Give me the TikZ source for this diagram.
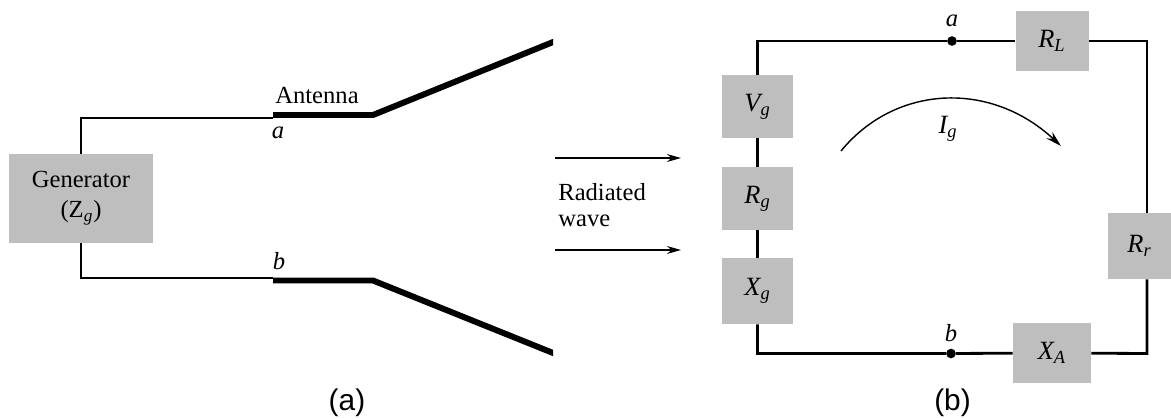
\documentclass[tikz,border=0pt]{standalone}
\usepackage{amsmath}
\usepackage{fontspec}
\setmainfont{Liberation Serif}
\setsansfont{Liberation Sans}
\usetikzlibrary{arrows, arrows.meta}
\usetikzlibrary{calc}
\definecolor{boxgray}{HTML}{BEBEBE}
\tikzset{
  txt/.style={inner sep=0pt, font=\fontsize{14}{14.7}\selectfont},
  caption/.style={inner sep=0pt, font=\sffamily\fontsize{17}{20}\selectfont},
  box/.style={fill=boxgray, inner sep=0pt, font=\fontsize{15}{18}\selectfont},
  feed/.style={line width=0.6pt},
  antenna/.style={line width=3.4pt, line join=miter},
  wire/.style={line width=1.6pt, line join=miter},
  wave/.style={line width=0.6pt, -{Stealth[length=8pt, width=4.5pt]}},
  junction/.style={circle, fill, inner sep=0pt, minimum size=5.5pt},
}
\begin{document}
\begin{tikzpicture}[x=0.02cm, y=-0.02cm]
      \useasboundingbox (0,0) rectangle (1171,419);

      % (a)
      \node[box, minimum width=2.88cm, minimum height=1.78cm, align=center, font=\fontsize{14}{17}\selectfont] (gen) at (81,198.5) {Generator\\($\textup{Z}_{\textit{g}}$)};
      \coordinate (gentop) at (81,118);
      \coordinate (genbot) at (81,278);
      \coordinate (feeda) at (273,118);
      \coordinate (feedb) at (273,278);
      \coordinate (starta) at (273,115);
      \coordinate (benda) at (373,115);
      \coordinate (tipa) at (563,38);
      \coordinate (startb) at (273,280.5);
      \coordinate (bendb) at (373,280.5);
      \coordinate (tipb) at (563,357);

      \draw[feed] (gen.north) -- (gentop) -- (feeda);
      \draw[feed] (gen.south) -- (genbot) -- (feedb);
      \begin{scope}
        \clip (0,0) rectangle (553,419);
        \draw[antenna] (starta) -- (benda) -- (tipa);
        \draw[antenna] (startb) -- (bendb) -- (tipb);
      \end{scope}

      \node[txt, anchor=base] (antennalabel) at (317,103) {Antenna};
      \node[txt] (alabel) at (278,133) {\textit{a}};
      \node[txt] (blabel) at (279,261) {\textit{b}};
      \node[caption] (capa) at (347,403) {(a)};

      % radiated wave
      \coordinate (wavea) at (555,158);
      \coordinate (waveb) at (555,250);
      \coordinate (waveaend) at (681,158);
      \coordinate (wavebend) at (681,250);
      \draw[wave] (wavea) -- (waveaend);
      \draw[wave] (waveb) -- (wavebend);
      \node[txt, anchor=west, align=left] (wavelabel) at (558,205) {Radiated\\wave};

      % (b)
      \node[box, minimum width=1.44cm, minimum height=1.26cm] (vg) at (757.5,106.5) {$\textit{V}_{\textit{g}}$};
      \node[box, minimum width=1.44cm, minimum height=1.26cm] (rg) at (757.5,198.5) {$\textit{R}_{\textit{g}}$};
      \node[box, minimum width=1.44cm, minimum height=1.32cm] (xg) at (757.5,291) {$\textit{X}_{\textit{g}}$};
      \node[box, minimum width=1.46cm, minimum height=1.2cm] (rl) at (1052,41) {$\textit{R}_{\textit{L}}$};
      \node[box, minimum width=1.26cm, minimum height=1.32cm] (rr) at (1139.5,246) {$\textit{R}_{\textit{r}}$};
      \node[box, minimum width=1.56cm, minimum height=1.2cm] (xa) at (1052,353) {$\textit{X}_{\textit{A}}$};

      \node[junction] (a) at (952,41) {};
      \node[junction] (b) at (951,353.5) {};
      \node[txt] (atop) at (952,21) {\textit{a}};
      \node[txt] (btop) at (951,333) {\textit{b}};

      \coordinate (cornertl) at (757.5,41);
      \coordinate (cornertr) at (1147,41);
      \coordinate (cornerbr) at (1147,353.5);
      \coordinate (cornerbl) at (757.5,353.5);

      \draw[wire] (vg.north) -- (cornertl) -- (a) -- (rl);
      \draw[wire] (rl) -- (cornertr) -- (cornertr |- rr.north);
      \draw[wire] (cornerbr |- rr.south) -- (cornerbr) -- (xa);
      \draw[wire] (xa) -- (b) -- (cornerbl) -- (xg.south);
      \draw[wire] (vg) -- (rg);
      \draw[wire] (rg) -- (xg);

      % current
      \coordinate (arcstart) at (841,151);
      \coordinate (arcend) at (1061,146);
      \draw[line width=0.8pt, -{Stealth[length=9pt, width=5pt]}] (arcstart) .. controls (895,85) and (990,80) .. (arcend);
      \node[txt, font=\fontsize{15}{18}\selectfont] (ig) at (948,129) {$\textit{I}_{\textit{g}}$};
      \node[caption] (capb) at (952.5,403) {(b)};
\end{tikzpicture}
\end{document}
